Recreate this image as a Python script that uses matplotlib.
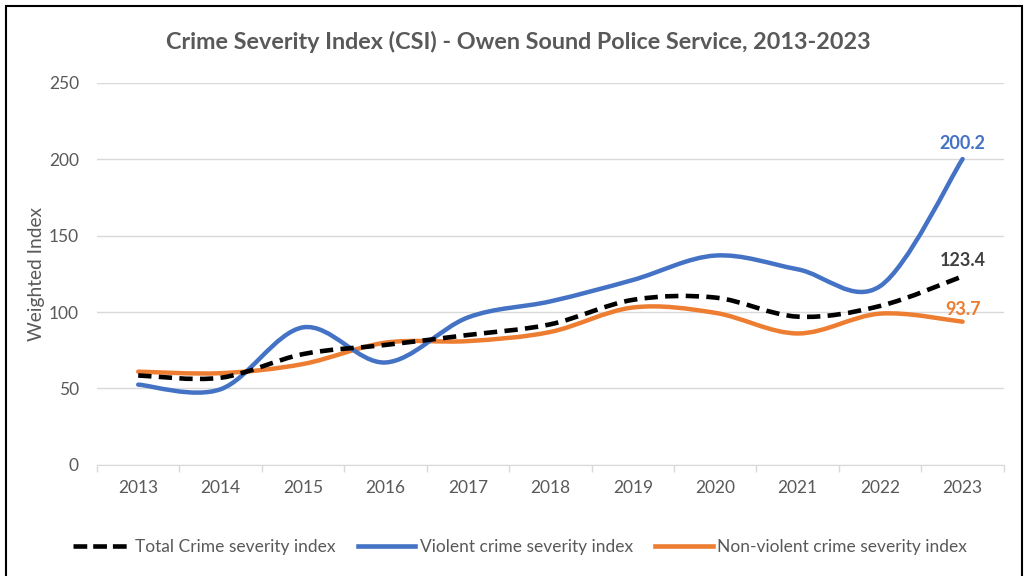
import matplotlib.pyplot as plt
from matplotlib.path import Path
from matplotlib.patches import PathPatch, Rectangle
from matplotlib.lines import Line2D

years = ['2013', '2014', '2015', '2016', '2017', '2018', '2019', '2020', '2021', '2022', '2023']
total = [58.5, 57.0, 72.5, 78.5, 85.0, 92.0, 108.0, 109.5, 97.0, 104.0, 123.4]
violent = [52.5, 49.5, 90.0, 67.0, 96.5, 107.0, 121.0, 137.0, 128.0, 117.0, 200.2]
nonviolent = [61.0, 60.0, 66.0, 80.0, 81.0, 87.0, 103.0, 99.5, 86.0, 99.0, 93.7]

plt.rcParams['font.family'] = ['Lato', 'DejaVu Sans']
grey = '#595959'


def smooth_path(xs, ys):
    # Excel-like smoothing: cubic bezier through the points (catmull-rom style)
    pts = list(zip(xs, ys))
    verts = [pts[0]]
    codes = [Path.MOVETO]
    n = len(pts)
    for i in range(n - 1):
        p0 = pts[i - 1] if i > 0 else pts[i]
        p1 = pts[i]
        p2 = pts[i + 1]
        p3 = pts[i + 2] if i + 2 < n else pts[i + 1]
        c1 = (p1[0] + (p2[0] - p0[0]) / 6, p1[1] + (p2[1] - p0[1]) / 6)
        c2 = (p2[0] - (p3[0] - p1[0]) / 6, p2[1] - (p3[1] - p1[1]) / 6)
        verts += [c1, c2, p2]
        codes += [Path.CURVE4] * 3
    return Path(verts, codes)


fig = plt.figure(figsize=(10.34, 5.76), dpi=100)
ax = fig.add_axes([0.0938, 0.193, 0.877, 0.663])

x = list(range(len(years)))
ax.add_patch(PathPatch(smooth_path(x, nonviolent), fill=False, ec='#ED7D31', lw=3.2, capstyle='round', zorder=3))
ax.add_patch(PathPatch(smooth_path(x, violent), fill=False, ec='#4472C4', lw=3.2, capstyle='round', zorder=4))
ax.add_patch(PathPatch(smooth_path(x, total), fill=False, ec='black', lw=3.3, ls=(0, (2.9, 1.6)), zorder=5))

ax.set_xlim(-0.5, len(years) - 0.5)
ax.set_ylim(0, 250)
ax.set_yticks([0, 50, 100, 150, 200, 250])
ax.set_xticks(x)
ax.set_xticklabels(years)
ax.set_xticks([i - 0.5 for i in range(len(years) + 1)], minor=True)
ax.tick_params(axis='x', which='major', length=0, pad=11, labelsize=12.5, labelcolor=grey)
ax.tick_params(axis='x', which='minor', length=5, color='#D9D9D9', width=1)
ax.tick_params(axis='y', length=0, pad=13, labelsize=12.5, labelcolor=grey)
ax.grid(axis='y', color='#D9D9D9', lw=1)
ax.set_axisbelow(True)
for s in ['top', 'right', 'left']:
    ax.spines[s].set_visible(False)
ax.spines['bottom'].set_color('#D9D9D9')
ax.set_ylabel('Weighted Index', fontsize=13.8, color=grey, labelpad=3)

fig.text(518 / 1034, 1 - 42 / 576, 'Crime Severity Index (CSI) - Owen Sound Police Service, 2013-2023',
         fontsize=16.8, color=grey, fontweight='bold', ha='center', va='center')

ax.annotate(f'{violent[-1]:.1f}', (x[-1], violent[-1]), xytext=(0, 5), textcoords='offset points',
            ha='center', va='bottom', color='#4472C4', fontsize=13, fontweight='bold')
ax.annotate(f'{total[-1]:.1f}', (x[-1], total[-1]), xytext=(0, 5), textcoords='offset points',
            ha='center', va='bottom', color='#404040', fontsize=13, fontweight='bold')
ax.annotate(f'{nonviolent[-1]:.1f}', (x[-1], nonviolent[-1]), xytext=(0, 3), textcoords='offset points',
            ha='center', va='bottom', color='#ED7D31', fontsize=13, fontweight='bold')

handles = [Line2D([], [], color='black', lw=3.3, ls=(0, (3.0, 1.3))),
           Line2D([], [], color='#4472C4', lw=3.3),
           Line2D([], [], color='#ED7D31', lw=3.3)]
labels = ['Total Crime severity index', 'Violent crime severity index', 'Non-violent crime severity index']
fig.legend(handles, labels, loc='center', bbox_to_anchor=(0.503, 0.05), ncol=3, frameon=False,
           fontsize=12.5, labelcolor=grey, handlelength=3.3, handletextpad=0.25, columnspacing=1.3)

fig.patches.append(Rectangle((6 / 1034, -0.05), 1016 / 1034, 1.05 - 6 / 576, transform=fig.transFigure,
                             fill=False, ec='black', lw=1.5))

fig.savefig('out.png', dpi=100)
